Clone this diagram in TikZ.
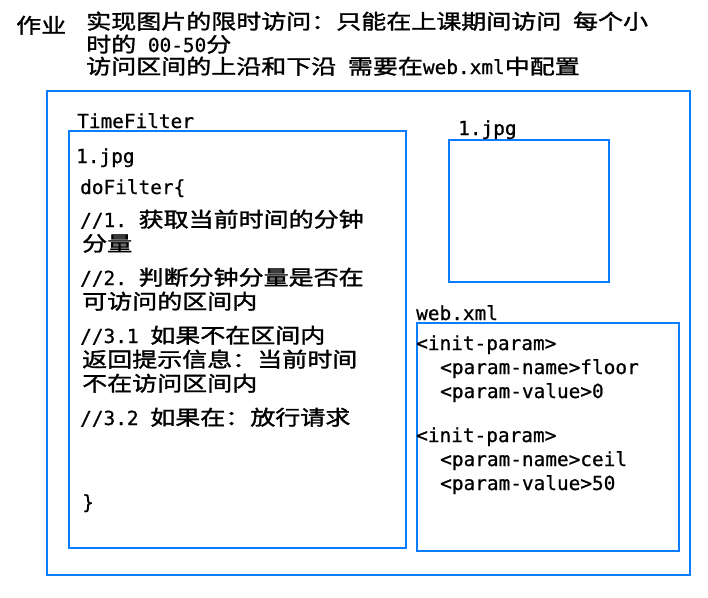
\documentclass[tikz,border=0pt]{standalone}
\usepackage{fontspec}
\setmonofont{DejaVu Sans Mono}[FakeBold=0.8]
\newfontfamily\cjk{Noto Sans CJK SC}[FakeStretch=1.22, FakeBold=1.5]
\newcommand{\zh}[1]{{\cjk\fontsize{20.5}{24}\selectfont #1}}
\definecolor{boxblue}{RGB}{10,125,255}

\begin{document}
\begin{tikzpicture}[x=1pt, y=-1pt,
    txt/.style={anchor=base west, inner sep=0pt,
      font=\fontsize{19.4}{24}\selectfont\ttfamily\frenchspacing},
    frame/.style={draw=boxblue, line width=2.4pt}]
   \useasboundingbox (0,0) rectangle (708,597);
   % heading
   \node[txt] (hw) at (16,33) {\zh{作业}};
   \node[txt] (task1) at (86,29) {\zh{实现图片的限时访问：只能在上课期间访问} \zh{每个小}};
   \node[txt] (task2) at (86,52) {\zh{时的} 00-50\zh{分}};
   \node[txt] (task3) at (86,74) {\zh{访问区间的上沿和下沿} \zh{需要在}web.xml\zh{中配置}};
   % frames
   \draw[frame] (47,91) rectangle (690,575);
   \draw[frame] (69,131) rectangle (406,548);
   \draw[frame] (449,140) rectangle (609,282);
   \draw[frame] (417,323) rectangle (679,551);
   \node[txt] (tfName) at (77,128) {TimeFilter};
   \node[txt] (jpgName) at (458,135) {1.jpg};
   \node[txt] (xmlName) at (416,320) {web.xml};
   % filter body
   \node[txt] (tfImg) at (76,163) {1.jpg};
   \node[txt] (tfHead) at (80,194) {doFilter\{};
   \node[txt] (step1) at (80,227) {//1. \zh{获取当前时间的分钟}};
   \node[txt] (step1b) at (82,251) {\zh{分量}};
   \node[txt] (step2) at (80,285) {//2. \zh{判断分钟分量是否在}};
   \node[txt] (step2b) at (82,309) {\zh{可访问的区间内}};
   \node[txt] (step3) at (80,343) {//3.1 \zh{如果不在区间内}};
   \node[txt] (step3b) at (82,367) {\zh{返回提示信息：当前时间}};
   \node[txt] (step3c) at (82,391) {\zh{不在访问区间内}};
   \node[txt] (step4) at (80,425) {//3.2 \zh{如果在：放行请求}};
   \node[txt] (tfEnd) at (82,509) {\}};
   % config
   \node[txt] (floorInit) at (416,350) {<init-param>};
   \node[txt] (floorName) at (440,374) {<param-name>floor};
   \node[txt] (floorVal) at (440,398) {<param-value>0};
   \node[txt] (ceilInit) at (416,442) {<init-param>};
   \node[txt] (ceilName) at (440,466) {<param-name>ceil};
   \node[txt] (ceilVal) at (440,490) {<param-value>50};
\end{tikzpicture}
\end{document}
